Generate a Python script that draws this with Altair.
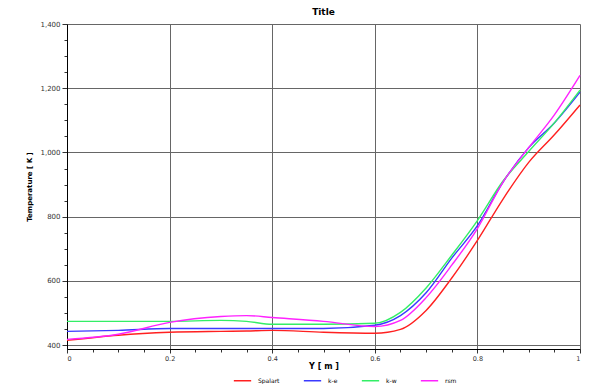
import altair as alt
import pandas as pd

y_pos = [0, 0.1, 0.2, 0.3, 0.35, 0.4, 0.5, 0.6, 0.65, 0.7, 0.75, 0.8, 0.85, 0.9, 0.95, 1.0]
series_names = ["Spalart", "k-e", "k-w", "rsm"]
red = [415, 431, 440, 443, 444, 446, 440, 437, 449, 508, 609, 726, 855, 969, 1055, 1148]
blue = [443, 446, 452, 452, 452, 452, 452, 462, 492, 563, 671, 772, 908, 1015, 1092, 1188]
green = [474, 474, 474, 477, 474, 465, 465, 468, 502, 578, 680, 788, 911, 1003, 1092, 1194]
magenta = [418, 434, 471, 489, 492, 486, 474, 458, 477, 548, 649, 763, 908, 1015, 1117, 1240]
colors = ["#ff2020", "#3a3aff", "#33ee66", "#ff22ff"]

x_ticks = [round(i * 0.05, 2) for i in range(21)]
y_ticks = list(range(400, 1401, 50))

rows = []
for name, vals in zip(series_names, [red, blue, green, magenta]):
    for x, v in zip(y_pos, vals):
        rows.append({"Y": x, "T": v, "series": name})
df = pd.DataFrame(rows)

chart = alt.Chart(df).mark_line(interpolate="monotone", strokeWidth=1.4).encode(
    x=alt.X("Y:Q", scale=alt.Scale(domain=[0, 1], nice=False),
            axis=alt.Axis(title="Y [ m ]", values=x_ticks,
                          labelExpr="round(datum.value*20) % 4 === 0 ? (datum.value == 0 || datum.value == 1 ? format(datum.value, 'd') : format(datum.value, '.1f')) : ''",
                          gridOpacity={"condition": {"test": "round(datum.value*20) % 4 === 0", "value": 1}, "value": 0},
                          tickSize={"condition": {"test": "round(datum.value*20) % 4 === 0", "value": 4}, "value": 3},
                          labelPadding=2, labelFontSize=6.5,
                          titleFontSize=8, titleFontWeight="bold", titlePadding=1)),
    y=alt.Y("T:Q", scale=alt.Scale(domain=[388, 1400], nice=False, zero=False),
            axis=alt.Axis(title="Temperature [ K ]", values=y_ticks,
                          labelExpr="datum.value % 200 === 0 ? format(datum.value, ',') : ''",
                          gridOpacity={"condition": {"test": "datum.value % 200 === 0", "value": 1}, "value": 0},
                          tickSize={"condition": {"test": "datum.value % 200 === 0", "value": 5}, "value": 3},
                          titleFontSize=7, titleFontWeight="bold", titlePadding=7)),
    color=alt.Color("series:N", scale=alt.Scale(domain=series_names, range=colors),
                    sort=series_names,
                    legend=alt.Legend(title=None, orient="none", legendX=166, legendY=347,
                                      direction="horizontal",
                                      symbolType="stroke", symbolStrokeWidth=1.5,
                                      labelFontSize=6, symbolSize=300, padding=0,
                                      columnPadding=20, labelOffset=6, labelLimit=60)),
).properties(
    width=513, height=325,
    padding={"left": 17, "top": 0, "right": 0, "bottom": 0},
    title=alt.TitleParams("Title", fontSize=9, fontWeight="bold", offset=3),
).configure_axis(
    gridColor="#666666", gridWidth=1, domainColor="#000000", tickColor="#333333",
    labelFontSize=7, labelColor="#333333", labelFont="DejaVu Sans", titleFont="DejaVu Sans",
).configure_title(font="DejaVu Sans").configure_legend(labelFont="DejaVu Sans").configure_view(stroke=None)

chart.save("out.html", embed_options={"renderer": "svg", "actions": False})
